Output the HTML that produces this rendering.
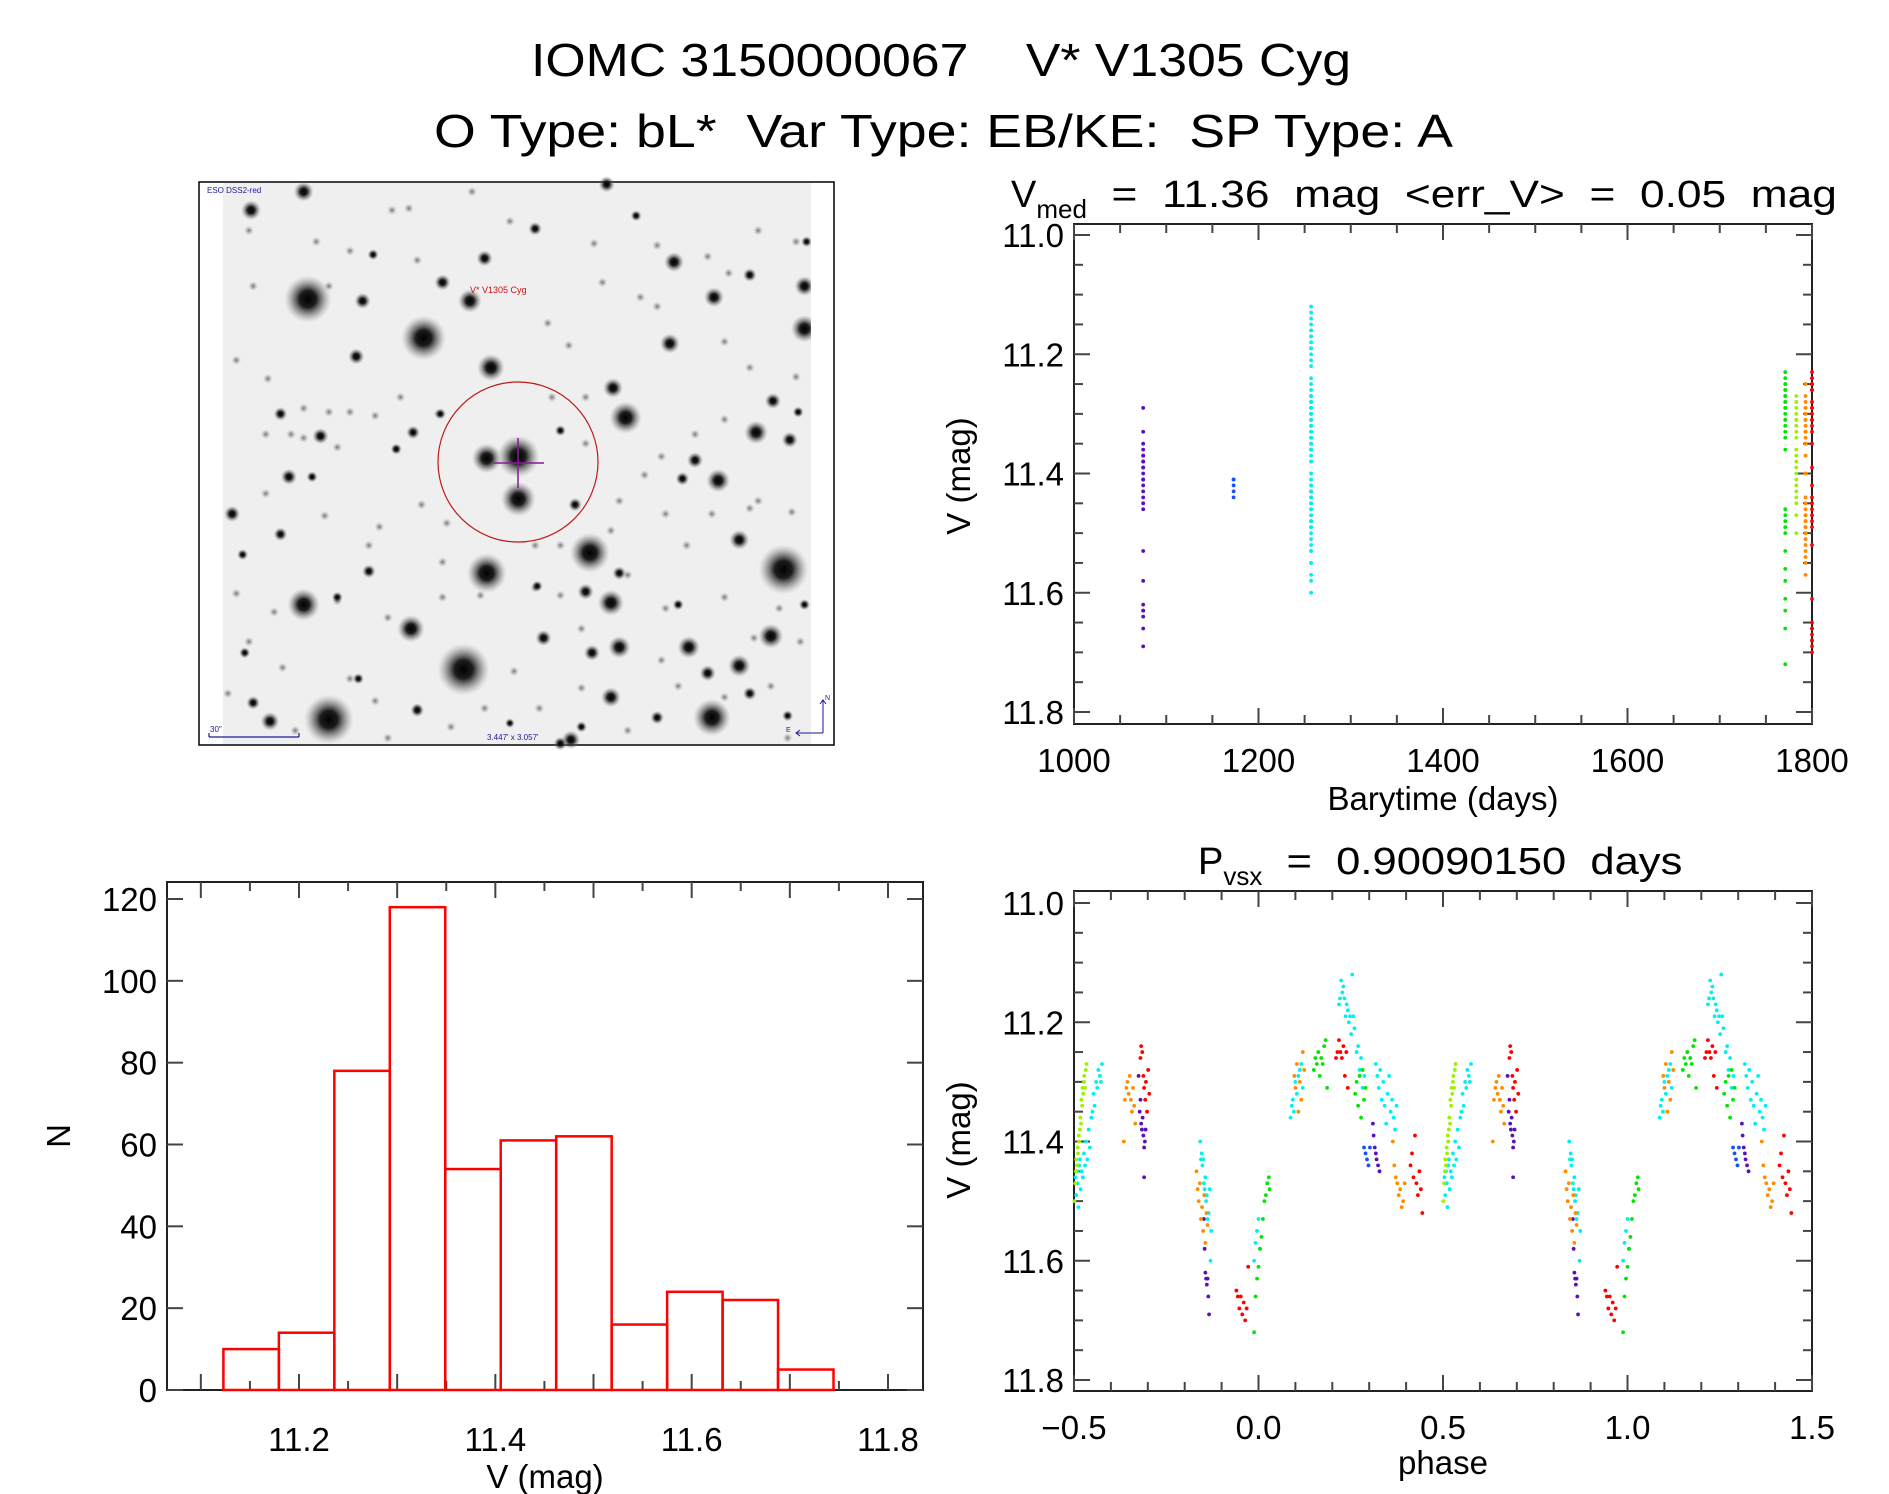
<!DOCTYPE html>
<html><head><meta charset="utf-8"><title>IOMC 3150000067 V* V1305 Cyg</title>
<style>
html,body{margin:0;padding:0;background:#fff;}
svg{display:block;font-family:"Liberation Sans",sans-serif;}
svg text{white-space:pre;}
</style></head>
<body>
<svg id="fig" width="1889" height="1494" viewBox="0 0 1889 1494" xmlns="http://www.w3.org/2000/svg" xml:space="preserve">
<defs>
<radialGradient id="starG"><stop offset="0" stop-color="#000" stop-opacity="1"/><stop offset="0.35" stop-color="#111" stop-opacity="0.95"/><stop offset="0.7" stop-color="#555" stop-opacity="0.45"/><stop offset="1" stop-color="#999" stop-opacity="0"/></radialGradient>
<radialGradient id="faintG"><stop offset="0" stop-color="#555" stop-opacity="0.8"/><stop offset="0.5" stop-color="#888" stop-opacity="0.45"/><stop offset="1" stop-color="#bbb" stop-opacity="0"/></radialGradient>
</defs>
<text x="531" y="76" font-size="46" textLength="820" lengthAdjust="spacingAndGlyphs" fill="#000">IOMC 3150000067    V* V1305 Cyg</text>
<text x="434" y="147" font-size="46" textLength="1019" lengthAdjust="spacingAndGlyphs" fill="#000">O Type: bL*  Var Type: EB/KE:  SP Type: A</text>

<g id="sky">
<rect x="199" y="182" width="635" height="563" fill="#fff" stroke="#000" stroke-width="1.5"/>
<rect x="223" y="183" width="588" height="561" fill="#efefef"/>
</g>

<text x="1011" y="207" font-size="38" fill="#000">V<tspan font-size="26" dy="11">med</tspan><tspan dy="-11" font-size="38" textLength="750" lengthAdjust="spacingAndGlyphs">  =  11.36  mag  &lt;err_V&gt;  =  0.05  mag</tspan></text>
<text x="1198" y="874" font-size="38" fill="#000">P<tspan font-size="26" dy="11">vsx</tspan><tspan dy="-11" font-size="38" textLength="420" lengthAdjust="spacingAndGlyphs">  =  0.90090150  days</tspan></text>

<g id="lc"></g>
<g id="ph"></g>
<g id="hist"></g>
</svg>
<script>
// ---------- Histogram data ----------
const histStart = 11.123;
const histBinWidth = 0.0565;
const histCounts = [10, 14, 78, 118, 54, 61, 62, 16, 24, 22, 5];
const histXTicks = ["11.2", "11.4", "11.6", "11.8"];
const histYTicks = ["0", "20", "40", "60", "80", "100", "120"];

// ---------- Light curve groups (colour, observation epoch) ----------
const groupNames = ["purple", "blue", "cyan", "green", "yellowgreen", "orange", "red"];
const groupColors = ["#5a10b8", "#1550ff", "#00f0f0", "#00e600", "#9cf000", "#ff8c00", "#ff0000"];
const groupTimes = [1075, 1173, 1257, 1771, 1783, 1793, 1800];

// phases and magnitudes per group
const purplePhase = [-0.325,-0.322,-0.32,-0.318,-0.316,-0.314,-0.312,-0.31,-0.308,-0.306,-0.31,-0.148,-0.146,-0.144,-0.142,-0.14,-0.138,-0.136,-0.134,0.31,0.312,0.315,0.318,0.32,0.324,0.328];
const purpleMag = [11.29,11.35,11.33,11.37,11.38,11.36,11.39,11.41,11.40,11.38,11.46,11.53,11.58,11.62,11.63,11.64,11.63,11.66,11.69,11.37,11.39,11.41,11.42,11.43,11.44,11.45];
const bluePhase = [0.286,0.29,0.294,0.298,0.302];
const blueMag = [11.41,11.42,11.43,11.44,11.41];
const cyanPhase = [-0.496,-0.494,-0.492,-0.49,-0.488,-0.486,-0.484,-0.482,-0.479,-0.476,-0.473,-0.47,-0.467,-0.464,-0.46,-0.457,-0.453,-0.45,-0.447,-0.444,-0.44,-0.437,-0.434,-0.43,-0.427,-0.424,
 -0.158,-0.156,-0.154,-0.152,-0.15,-0.148,-0.146,-0.144,-0.142,-0.14,-0.138,-0.135,-0.132,-0.13,-0.128,
 -0.012,-0.008,-0.004,0.0,0.004,
 0.087,0.09,0.093,0.096,0.1,0.104,0.108,0.112,0.116,0.12,
 0.218,0.221,0.224,0.227,0.23,0.233,0.236,0.239,0.242,0.245,0.248,0.251,0.254,0.257,0.26,
 0.266,0.27,0.274,0.278,0.282,0.287,
 0.318,0.322,0.326,0.33,0.334,0.338,0.342,0.346,0.35,0.354,0.358,0.362,0.366,0.37,0.374];
const cyanMag = [11.46,11.49,11.45,11.47,11.51,11.44,11.43,11.48,11.45,11.46,11.42,11.44,11.40,11.43,11.38,11.41,11.36,11.35,11.32,11.34,11.30,11.31,11.28,11.29,11.30,11.27,
 11.40,11.43,11.42,11.44,11.43,11.47,11.48,11.46,11.50,11.49,11.53,11.52,11.48,11.60,11.55,
 11.60,11.57,11.55,11.53,11.58,
 11.36,11.34,11.33,11.35,11.30,11.32,11.29,11.28,11.27,11.31,
 11.17,11.16,11.13,11.15,11.14,11.16,11.19,11.17,11.18,11.20,11.19,11.22,11.12,11.19,11.21,
 11.25,11.24,11.28,11.26,11.31,11.29,
 11.27,11.29,11.31,11.28,11.33,11.30,11.34,11.37,11.32,11.29,11.35,11.33,11.36,11.38,11.34];
const greenPhase = [-0.012,-0.008,-0.004,0.0,0.004,0.008,0.012,0.016,0.02,0.024,0.028,0.03,0.15,0.154,0.158,0.162,0.166,0.17,0.174,0.178,0.182,0.186,0.262,0.266,0.27,0.274,0.278,0.282,0.286,0.29];
const greenMag = [11.72,11.66,11.63,11.61,11.58,11.56,11.53,11.50,11.49,11.47,11.46,11.48,11.28,11.26,11.27,11.25,11.29,11.26,11.27,11.24,11.23,11.31,11.32,11.30,11.34,11.29,11.36,11.28,11.33,11.31];
const yellowgreenPhase = [-0.499,-0.497,-0.495,-0.494,-0.492,-0.49,-0.489,-0.487,-0.486,-0.484,-0.483,-0.481,-0.48,-0.478,-0.477,-0.475,-0.473,-0.472,-0.47,-0.468,-0.466];
const yellowgreenMag = [11.50,11.47,11.45,11.43,11.44,11.41,11.42,11.39,11.40,11.38,11.36,11.37,11.33,11.34,11.31,11.32,11.30,11.29,11.31,11.28,11.27];
const orangePhase = [-0.365,-0.362,-0.358,-0.355,-0.352,-0.349,-0.346,-0.343,-0.34,-0.337,-0.334,-0.168,-0.165,-0.162,-0.159,-0.156,-0.153,-0.15,-0.147,-0.144,-0.141,-0.138,0.097,0.1,0.104,0.108,0.112,0.116,0.12,0.124,0.364,0.368,0.372,0.376,0.38,0.384,0.388,0.392,0.396];
const orangeMag = [11.40,11.33,11.31,11.30,11.32,11.29,11.33,11.35,11.31,11.34,11.37,11.45,11.48,11.50,11.47,11.53,11.51,11.55,11.49,11.57,11.52,11.54,11.29,11.31,11.27,11.35,11.30,11.33,11.25,11.28,11.40,11.44,11.46,11.47,11.49,11.48,11.51,11.50,11.47];
const redPhase = [-0.32,-0.318,-0.315,-0.312,-0.31,-0.307,-0.305,-0.302,-0.299,-0.296,-0.06,-0.056,-0.052,-0.048,-0.044,-0.04,-0.036,-0.032,-0.028,0.21,0.214,0.218,0.222,0.226,0.23,0.234,0.238,0.242,0.412,0.416,0.42,0.424,0.428,0.432,0.436,0.44,0.444];
const redMag = [11.26,11.24,11.25,11.29,11.31,11.33,11.30,11.35,11.28,11.32,11.65,11.66,11.68,11.66,11.69,11.67,11.70,11.68,11.61,11.26,11.25,11.23,11.25,11.26,11.24,11.29,11.25,11.31,11.44,11.42,11.46,11.39,11.47,11.49,11.45,11.48,11.52];

const lcXTicks = ["1000", "1200", "1400", "1600", "1800"];
const magTicks = ["11.0", "11.2", "11.4", "11.6", "11.8"];
const phaseTicks = ["\u22120.5", "0.0", "0.5", "1.0", "1.5"];

// ---------- helpers ----------
const NS = "http://www.w3.org/2000/svg";
function mk(tag, attrs, parent) {
  const e = document.createElementNS(NS, tag);
  for (const k in attrs) e.setAttribute(k, attrs[k]);
  parent.appendChild(e);
  return e;
}
const AX = "#222";

function frame(g, L, T, R, B) {
  const r = mk("rect", {x: L, y: T, width: R - L, height: B - T, fill: "none", stroke: AX, "stroke-width": 2}, g);
  
  
}
function xTick(g, x, T, B, len) {
  mk("line", {x1: x, x2: x, y1: B, y2: B - len, stroke: "#444", "stroke-width": 2}, g);
  mk("line", {x1: x, x2: x, y1: T, y2: T + len, stroke: "#444", "stroke-width": 2}, g);
}
function yTick(g, y, L, R, len) {
  mk("line", {x1: L, x2: L + len, y1: y, y2: y, stroke: "#444", "stroke-width": 2}, g);
  mk("line", {x1: R, x2: R - len, y1: y, y2: y, stroke: "#444", "stroke-width": 2}, g);
}
function label(g, txt, x, y, anchor, size) {
  const t = mk("text", {x: x, y: y, "text-anchor": anchor, "font-size": size || 33, fill: "#000"}, g);
  t.textContent = txt;
  return t;
}
function yTitle(g, txt, cx, cy) {
  const t = mk("text", {x: cx, y: cy, "text-anchor": "middle", "font-size": 33, fill: "#000", transform: "rotate(-90 " + cx + " " + cy + ")"}, g);
  t.textContent = txt;
  return t;
}

const groupPhases = [purplePhase, bluePhase, cyanPhase, greenPhase, yellowgreenPhase, orangePhase, redPhase];
const groupMags = [purpleMag, blueMag, cyanMag, greenMag, yellowgreenMag, orangeMag, redMag];

// ---------- Light curve (time) ----------
(function () {
  const g = document.getElementById("lc");
  const L = 1074, R = 1812, T = 224, B = 724;
  const xS = t => L + (t - 1000) / 800 * (R - L);
  const yS = m => 235 + (m - 11.0) / 0.8 * (712 - 235);
  frame(g, L, T, R, B);
  for (let t = 1000; t <= 1800; t += 50) xTick(g, xS(t), T, B, t % 200 === 0 ? 16 : 9);
  for (let k = 0; k <= 16; k++) { const m = 11.0 + k * 0.05; yTick(g, yS(m), L, R, k % 4 === 0 ? 16 : 9); }
  lcXTicks.forEach(s => { const t = label(g, s, xS(+s), 772, "middle");
    
     });
  magTicks.forEach(s => { const t = label(g, s, 1064, yS(+s) + 12, "end");
    
     });
  const xt = label(g, "Barytime (days)", 1443, 810, "middle");
  
  
  const yt = yTitle(g, "V (mag)", 970, 476);
  
  
  groupNames.forEach((nm, gi) => {
    const sg = mk("g", {fill: groupColors[gi]}, g);
    
    
    groupMags[gi].forEach((m, i) => {
      const c = mk("circle", {cx: xS(groupTimes[gi]), cy: yS(m), r: 1.9}, sg);
      
      
    });
  });
})();

// ---------- Phase plot ----------
(function () {
  const g = document.getElementById("ph");
  const L = 1074, R = 1812, T = 891, B = 1391;
  const xS = p => L + (p + 0.5) / 2 * (R - L);
  const yS = m => 903 + (m - 11.0) / 0.8 * (1380 - 903);
  frame(g, L, T, R, B);
  for (let k = 0; k <= 20; k++) xTick(g, xS(-0.5 + k * 0.1), T, B, k % 5 === 0 ? 16 : 9);
  for (let k = 0; k <= 16; k++) { const m = 11.0 + k * 0.05; yTick(g, yS(m), L, R, k % 4 === 0 ? 16 : 9); }
  phaseTicks.forEach((s, i) => { const t = label(g, s, xS(-0.5 + i * 0.5), 1439, "middle");
    
     });
  magTicks.forEach(s => { const t = label(g, s, 1064, yS(+s) + 12, "end");
    
     });
  const xt = label(g, "phase", 1443, 1474, "middle");
  
  
  const yt = yTitle(g, "V (mag)", 970, 1140);
  
  
  groupNames.forEach((nm, gi) => {
    const sg = mk("g", {fill: groupColors[gi]}, g);
    
    
    groupPhases[gi].forEach((p, i) => {
      [0, 1].forEach(cyc => {
        const c = mk("circle", {cx: xS(p + cyc), cy: yS(groupMags[gi][i]), r: 1.9}, sg);
        
        
      });
    });
  });
})();

// ---------- Histogram ----------
(function () {
  const g = document.getElementById("hist");
  const L = 167, R = 923, T = 882, B = 1390;
  const xS = v => 299 + (v - 11.2) / 0.6 * (888 - 299);
  const yS = n => B - n * (B - 899) / 120;
  frame(g, L, T, R, B);
  for (let k = 0; k <= 14; k++) { const v = 11.1 + k * 0.05; const x = xS(v); if (x > L && x < R) xTick(g, x, T, B, k % 2 === 0 ? 16 : 9); }
  for (let n = 0; n <= 120; n += 20) yTick(g, yS(n), L, R, 16);
  histXTicks.forEach(s => { const t = label(g, s, xS(+s), 1451, "middle");
    
     });
  histYTicks.forEach(s => { const t = label(g, s, 157, yS(+s) + 12, "end");
    
     });
  const xt = label(g, "V (mag)", 545, 1488, "middle");
  
  
  const yt = yTitle(g, "N", 70, 1136);
  
  
  histCounts.forEach((n, i) => {
    const x0 = xS(histStart + i * histBinWidth), x1 = xS(histStart + (i + 1) * histBinWidth);
    const b = mk("rect", {x: x0, y: yS(n), width: x1 - x0, height: B - yS(n), fill: "none", stroke: "#ff0000", "stroke-width": 2.5}, g);
    
    
  });
})();

// ---------- Finder chart stars (decorative) ----------
const starList = [[280,335,38],[555,440,36],[650,1335,42],[330,1470,40],[1410,1065,40],[705,1075,32],[950,1020,32],[270,1160,26],[780,760,34],[780,875,28],[705,765,24],[715,520,22],[1035,655,26],[1005,575,16],[1245,330,16],[1255,825,19],[1345,695,19],[1240,1465,30],[525,1225,22],[1000,1155,21],[1020,1275,18],[1185,1275,18],[1305,1325,18],[1380,1245,20],[1460,300,16],[1460,415,22],[1150,235,16],[1140,455,16],[145,95,16],[270,45,16],[990,25,13],[410,340,13],[395,490,13],[235,815,13],[100,915,13],[215,970,11],[600,290,13],[820,145,11],[1330,270,11],[1425,715,13],[1385,610,13],[1200,770,13],[1305,985,16],[940,1125,13],[840,1250,13],[955,1290,13],[1000,1410,16],[1230,1345,13],[1110,1465,11],[190,1475,15],[150,1425,11],[905,1525,15],[425,1070,11],[215,645,11],[310,705,13],[530,695,11],[700,225,13],[665,340,19],[1060,110,9],[435,215,9],[930,1490,9],[915,890,11],[595,645,9],[1170,820,11],[1330,1400,11],[1420,1460,9],[880,690,9],[1020,1075,11],[1160,1160,9],[350,1140,9],[125,1025,9],[490,740,9],[290,815,9],[1465,180,9],[1460,1160,9],[880,1535,11],[540,1445,11],[130,1290,9],[400,1360,9],[825,1110,9],[760,1480,8],[1445,640,9]];
const faintList = [[140,150],[380,205],[540,230],[670,45],[760,125],[960,185],[1070,330],[1110,355],[1230,220],[1280,265],[1350,150],[1440,180],[300,180],[150,300],[330,300],[480,95],[520,90],[850,400],[900,460],[980,290],[1110,190],[1270,450],[1330,520],[1440,545],[110,500],[185,550],[270,630],[330,640],[380,640],[180,700],[240,700],[270,710],[350,735],[490,740],[590,645],[940,725],[1080,810],[1120,760],[1200,700],[1270,660],[1350,880],[1430,910],[1240,915],[1130,915],[1020,880],[880,1000],[820,1000],[600,1045],[425,1000],[450,950],[320,920],[180,860],[110,1130],[200,1180],[350,1150],[470,1195],[600,1140],[690,1135],[820,1115],[880,1135],[930,1225],[1040,1080],[1130,1170],[1270,1140],[1400,1170],[1450,1260],[1340,1250],[1120,1310],[930,1385],[830,1440],[700,1440],[540,1440],[440,1420],[380,1360],[220,1330],[140,1260],[90,1400],[1160,1380],[1270,1410],[1380,1380],[1420,1520],[1040,1500],[620,1490],[470,1520],[250,1500],[770,1340],[860,600],[940,600],[500,600],[440,650],[610,940],[550,890],[1000,960],[1180,1000],[1330,900]];
(function () {
  const g = document.getElementById("sky");
  const stars = mk("g", {}, g);
  
  
  faintList.forEach(s => {
    const x = 190 + s[0] / 2.376, y = 175 + s[1] / 2.70;
    if (x < 223 || x > 811) return;
    const c = mk("circle", {cx: x, cy: y, r: 5, fill: "url(#faintG)"}, stars);
    
    
  });
  starList.forEach(s => {
    const x = 190 + s[0] / 2.376, y = 175 + s[1] / 2.70;
    if (x < 223 || x > 811) return;
    const c = mk("circle", {cx: x, cy: y, r: s[2] / 1.6, fill: "url(#starG)"}, stars);
    
    
  });
  const cover = mk("rect", {x: 811, y: 183, width: 22, height: 561, fill: "#fff"}, g);
  const cover2 = mk("rect", {x: 200, y: 183, width: 23, height: 561, fill: "#fff"}, g);
  const circ = mk("circle", {cx: 518, cy: 462, r: 80, fill: "none", stroke: "#c01818", "stroke-width": 1.2}, g);
  
  
  const cross = mk("path", {d: "M493 463H544M518 438V488", stroke: "#8a1a9a", "stroke-width": 1.5, fill: "none"}, g);
  
  
  const nm = mk("text", {x: 470, y: 293, "font-size": 9, fill: "#cc1111"}, g);
  nm.textContent = "V* V1305 Cyg";
  
  
  const src = mk("text", {x: 207, y: 193, "font-size": 8, fill: "#1a1a99"}, g);
  src.textContent = "ESO DSS2-red";
  
  
  const sc = mk("path", {d: "M209 737H299M209 733V737M299 733V737", stroke: "#1a1a99", "stroke-width": 1.2, fill: "none"}, g);
  
  
  const sct = mk("text", {x: 210, y: 732, "font-size": 8, fill: "#1a1a99"}, g);
  sct.textContent = "30\"";
  
  
  const fov = mk("text", {x: 487, y: 740, "font-size": 8, fill: "#1a1a99"}, g);
  fov.textContent = "3.447' x 3.057'";
  
  
  const cmp = mk("path", {d: "M823 733V700M820 704L823 700L826 704M823 733H796M800 730L796 733L800 736", stroke: "#1a1a99", "stroke-width": 1, fill: "none"}, g);
  
  
  const nt = mk("text", {x: 825, y: 700, "font-size": 7, fill: "#1a1a99"}, g);
  nt.textContent = "N";
  
  
  const et = mk("text", {x: 786, y: 732, "font-size": 7, fill: "#1a1a99"}, g);
  et.textContent = "E";
  
  
})();
</script>
</body></html>
